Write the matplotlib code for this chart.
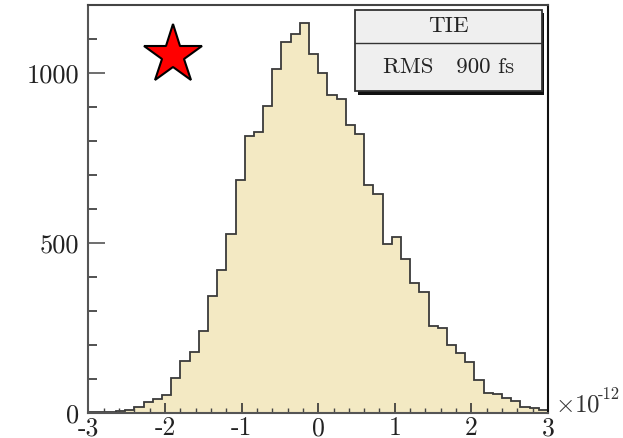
import matplotlib
matplotlib.use("Agg")
import matplotlib.pyplot as plt
from matplotlib.ticker import MultipleLocator, FuncFormatter
from matplotlib.patches import Rectangle

plt.rcParams['font.family'] = 'cmr10'
plt.rcParams['mathtext.fontset'] = 'cm'
plt.rcParams['axes.formatter.use_mathtext'] = True

# TIE histogram, 50 bins from -3 to 3 (units of 1e-12 s)
bin_lo, bin_hi = -3.0, 3.0
counts = [2, 4, 4, 5, 10, 17, 32, 40, 54, 102,
          152, 179, 240, 343, 420, 525, 685, 815, 826, 902,
          1011, 1091, 1116, 1147, 1057, 1001, 934, 922, 848, 820,
          672, 644, 497, 518, 452, 382, 356, 256, 249, 200,
          178, 150, 96, 58, 57, 43, 36, 17, 14, 8]
legend_title = "TIE"
legend_value = "RMS   900 fs"

n = len(counts)
width = (bin_hi - bin_lo) / n
edges = [bin_lo + i * width for i in range(n + 1)]

fig = plt.figure(figsize=(6.23, 4.38), dpi=100)
ax = fig.add_axes([0.142, 0.057, 0.7376, 0.9317])

ax.stairs(counts, edges, fill=True, color='#f3e9c3')
ax.stairs(counts, edges, color='#3a3a3a', linewidth=1.3)

ax.set_xlim(bin_lo, bin_hi)
ax.set_ylim(0, 1200)

for s in ax.spines.values():
    s.set_linewidth(1.5)
ax.spines['left'].set_color('#555555')
ax.spines['bottom'].set_color('#555555')
ax.spines['top'].set_color('#444444')
ax.spines['right'].set_color('#111111')

ax.xaxis.set_major_locator(MultipleLocator(1))
ax.xaxis.set_minor_locator(MultipleLocator(0.2))
ax.yaxis.set_major_locator(MultipleLocator(500))
ax.yaxis.set_minor_locator(MultipleLocator(100))
ax.xaxis.set_major_formatter(FuncFormatter(lambda v, p: "%d" % round(v)))
ax.yaxis.set_major_formatter(FuncFormatter(lambda v, p: "%d" % round(v)))

ax.tick_params(axis='x', which='major', direction='in', length=7, width=1.2,
               color='#333333', pad=2.5, labelsize=18.5, labelcolor='#222222')
ax.tick_params(axis='x', which='minor', direction='in', length=3.5, width=1.0,
               color='#444444')
ax.tick_params(axis='y', which='major', direction='in', length=12, width=1.2,
               color='#555555', pad=6.5, labelsize=19, labelcolor='#222222')
ax.tick_params(axis='y', which='minor', direction='in', length=6.5, width=1.2,
               color='#333333')

# axis exponent, drawn as base and superscript
fig.text(555 / 623, 1 - 412 / 438, r'$\times10$', fontsize=18,
         ha='left', va='baseline', color='#333333')
fig.text(598 / 623, 1 - 399 / 438, '-12', fontsize=12,
         ha='left', va='baseline', color='#333333')

# legend box with shadow
bx, by, bw, bh = 0.581, 0.788, 0.405, 0.2
shadow = Rectangle((bx + 0.006, by - 0.008), bw, bh, transform=ax.transAxes,
                   facecolor='#111111', edgecolor='none', zorder=4)
box = Rectangle((bx, by), bw, bh, transform=ax.transAxes,
                facecolor='#efefef', edgecolor='#333333', linewidth=1.3, zorder=5)
ax.add_patch(shadow)
ax.add_patch(box)
ax.plot([bx, bx + bw], [by + 0.59 * bh, by + 0.59 * bh], transform=ax.transAxes,
        color='#333333', linewidth=1.0, zorder=6)
ax.text(bx + bw / 2, by + 0.8 * bh, legend_title, transform=ax.transAxes,
        ha='center', va='center', fontsize=16.5, color='#222222', zorder=7)
ax.text(bx + bw / 2, by + 0.3 * bh, legend_value, transform=ax.transAxes,
        ha='center', va='center', fontsize=16.5, color='#222222', zorder=7)

ax.plot([0.183], [0.878], transform=ax.transAxes, marker='*', markersize=44,
        markerfacecolor='#ff0000', markeredgecolor='black', markeredgewidth=1.5,
        linestyle='none', zorder=8, clip_on=False)

fig.savefig('out.png', dpi=100)
